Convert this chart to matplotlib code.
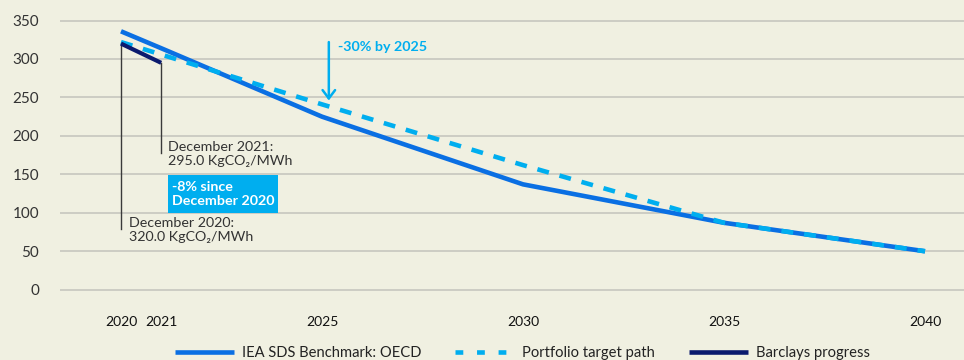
import matplotlib
matplotlib.use("Agg")
import matplotlib.pyplot as plt
from matplotlib.patches import Rectangle
from matplotlib.lines import Line2D

plt.rcParams['font.family'] = ['Lato', 'DejaVu Sans']

# emissions intensity, KgCO2/MWh
iea_years = [2020, 2021, 2025, 2030, 2035, 2040]
iea_values = [336, 314, 225, 137, 87, 50]

target_years = [2020, 2025, 2030, 2035, 2040]
target_values = [322, 241, 162, 87, 50]

progress_years = [2020, 2021]
progress_values = [320.0, 295.0]

xticks = [2020, 2021, 2025, 2030, 2035, 2040]
yticks = [0, 50, 100, 150, 200, 250, 300, 350]

bg = '#f0f0e1'
c_iea = '#0a6fe3'
c_target = '#00aeef'
c_progress = '#0b1a6e'

fig = plt.figure(figsize=(9.64, 3.6), dpi=100, facecolor=bg)
ax = fig.add_axes([60 / 964, 68 / 360, 904 / 964, 273 / 360], facecolor=bg)

ax.plot(iea_years, iea_values, color=c_iea, lw=3.3, solid_capstyle='butt', zorder=3,
        label='IEA SDS Benchmark: OECD')
ax.plot(target_years, target_values, color=c_target, lw=3.3, dashes=(2.6, 2.4),
        dash_capstyle='butt', zorder=4, label='Portfolio target path')
ax.plot(progress_years, progress_values, color=c_progress, lw=3.0, solid_capstyle='butt',
        zorder=5, label='Barclays progress')

# callouts for the two reported data points
ax.plot([2020, 2020], [progress_values[0], 79], color='#3a3a3a', lw=1.0, zorder=2)
ax.plot([2021, 2021], [progress_values[1], 178], color='#3a3a3a', lw=1.0, zorder=2)
ax.text(2020.21, 95, 'December 2020:\n%.1f KgCO₂/MWh' % progress_values[0],
        fontsize=10.3, color='#333333', va='top', ha='left', linespacing=1.25)
ax.text(2021.18, 194, 'December 2021:\n%.1f KgCO₂/MWh' % progress_values[1],
        fontsize=10.3, color='#333333', va='top', ha='left', linespacing=1.25)

ax.add_patch(Rectangle((2021.18, 100), 2.72, 49, facecolor=c_target, edgecolor='none', zorder=6))
ax.text(2021.27, 124.5, '-8% since\nDecember 2020', fontsize=10.3, fontweight='bold',
        color='white', va='center', ha='left', linespacing=1.2, zorder=7)

ax.annotate('', xy=(2025.17, 246), xytext=(2025.17, 322),
            arrowprops=dict(arrowstyle='->,head_length=0.6,head_width=0.45',
                            color=c_target, lw=1.8, shrinkA=0, shrinkB=0))
ax.text(2025.4, 315, '-30% by 2025', fontsize=10.3, fontweight='bold', color=c_target,
        va='center', ha='left')

ax.set_xlim(2018.483, 2040.97)
ax.set_ylim(-3, 352)
ax.set_xticks(xticks)
ax.set_yticks(yticks)
ax.tick_params(axis='both', length=0)
ax.tick_params(axis='y', pad=15, labelcolor='#333333', labelsize=11)
ax.tick_params(axis='x', pad=17, labelcolor='#111111', labelsize=10)
ax.grid(axis='y', color='#c6c6bf', lw=1.2)
ax.set_axisbelow(True)
for s in ax.spines.values():
    s.set_visible(False)

handles = [
    Line2D([], [], color=c_iea, lw=3.3, solid_capstyle='butt'),
    Line2D([], [], color=c_target, lw=3.3, dashes=(1.7, 3.0), dash_capstyle='butt'),
    Line2D([], [], color=c_progress, lw=3.3, solid_capstyle='butt'),
]
labels = ['IEA SDS Benchmark: OECD', 'Portfolio target path', 'Barclays progress']
fig.legend(handles, labels, loc='center', bbox_to_anchor=(0.5417, 7 / 360), ncol=3,
           frameon=False, fontsize=10.6, handlelength=4.0, handletextpad=0.55,
           columnspacing=2.3, labelcolor='#222222')

fig.savefig('out.png', dpi=100, facecolor=bg)
